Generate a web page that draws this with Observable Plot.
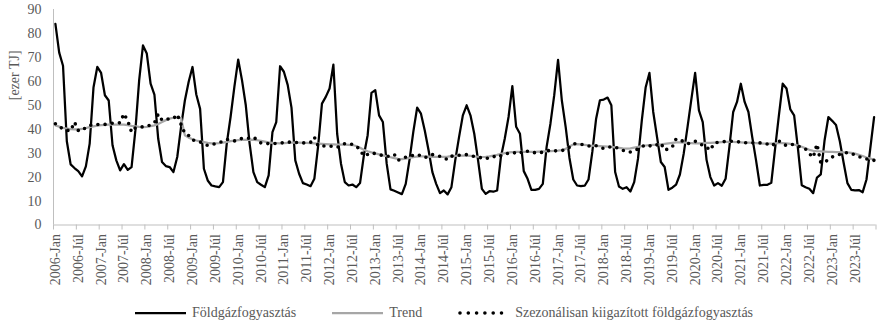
<!DOCTYPE html>
<html>
<head>
<meta charset="utf-8">
<script src="https://cdn.jsdelivr.net/npm/d3@7"></script>
<script src="https://cdn.jsdelivr.net/npm/@observablehq/plot@0.6"></script>
<style>
  body { margin: 0; background: #fff; font-family: "Liberation Serif", "Times New Roman", serif; }
  #chart svg { display: block; }
  #chart svg, #chart svg text { font-family: "Liberation Serif", "Times New Roman", serif !important; }
  #legend { display: flex; align-items: center; height: 26px; padding-left: 135px; font-size: 14px; color: #595959; white-space: nowrap; }
  #legend .item { display: flex; align-items: center; margin-right: 36px; }
  #legend svg { margin-right: 6px; }
</style>
</head>
<body>
<div id="chart"></div>
<div id="legend"></div>
<script>
// Monthly natural gas consumption in Hungary, 2006-Jan .. 2023-Dec (thousand TJ)
const firstYear = 2006;
const lastYear = 2023;
const halfYearNames = ["Jan", "Júl"];
const yTicks = [0, 10, 20, 30, 40, 50, 60, 70, 80, 90];

const consumption = [
  84.0, 72.0, 66.5, 35.0, 25.3, 23.8, 22.5, 20.3, 24.5, 34.0, 57.4, 66.0,
  63.5, 54.2, 52.0, 33.3, 27.0, 22.8, 25.4, 23.0, 24.2, 39.5, 60.5, 75.0,
  71.6, 59.0, 54.5, 36.0, 26.3, 24.6, 24.2, 22.1, 28.4, 41.0, 52.0, 59.8,
  66.0, 54.5, 48.5, 23.5, 18.6, 16.5, 16.1, 15.8, 17.9, 34.0, 45.1, 57.7,
  69.1, 60.5, 50.0, 34.0, 22.1, 17.9, 16.8, 15.8, 20.7, 38.8, 43.0, 66.3,
  64.0, 58.5, 49.0, 27.0, 21.4, 17.5, 16.9, 16.2, 19.3, 33.0, 50.7, 53.5,
  57.0, 67.0, 38.0, 25.6, 17.9, 16.5, 16.9, 15.8, 17.5, 29.0, 37.5, 55.2,
  56.3, 45.8, 43.0, 25.6, 14.9, 14.3, 13.6, 12.9, 17.2, 27.3, 39.0, 49.0,
  46.5, 39.5, 31.2, 22.1, 17.2, 13.3, 14.4, 12.8, 15.8, 27.0, 36.7, 45.8,
  50.0, 45.8, 38.1, 27.0, 15.1, 13.0, 14.1, 13.9, 14.4, 28.4, 36.0, 45.1,
  58.0, 41.0, 38.1, 22.5, 19.3, 14.7, 14.7, 15.1, 17.2, 32.6, 42.3, 54.2,
  69.0, 52.0, 41.0, 28.0, 19.0, 16.5, 16.2, 16.4, 19.0, 30.5, 44.4, 52.1,
  52.4, 53.2, 50.0, 22.1, 16.1, 15.1, 15.8, 14.0, 17.9, 27.7, 43.7, 57.4,
  63.5, 47.2, 36.7, 26.3, 24.2, 14.7, 15.6, 16.9, 21.1, 29.8, 40.9, 52.4,
  63.5, 47.9, 43.0, 27.2, 20.0, 16.5, 17.5, 16.4, 19.3, 32.6, 47.2, 51.4,
  59.0, 51.4, 47.2, 36.7, 27.0, 16.5, 16.8, 16.8, 17.6, 31.9, 45.8, 59.0,
  57.0, 48.3, 45.8, 32.0, 16.6, 15.8, 15.1, 13.3, 19.8, 21.1, 35.4, 45.1,
  43.5, 41.8, 35.0, 26.0, 17.5, 14.7, 14.5, 14.6, 13.7, 19.0, 32.0, 45.1
];

const trend = [
  41.6, 41.1, 40.6, 40.3, 40.0, 39.9, 39.9, 40.1, 40.5, 40.9, 41.2, 41.5,
  41.7, 41.8, 41.9, 41.9, 41.9, 41.9, 41.9, 41.7, 41.4, 41.2, 41.0, 40.9,
  41.0, 41.3, 41.6, 42.2, 43.0, 43.8, 44.4, 44.8, 44.9, 44.6, 37.5, 36.5,
  35.8, 35.3, 34.9, 34.6, 34.3, 34.1, 34.1, 34.2, 34.4, 34.7, 35.0, 35.2,
  35.4, 35.5, 35.6, 35.7, 35.6, 35.4, 35.1, 34.8, 34.5, 34.3, 34.2, 34.1,
  34.2, 34.3, 34.4, 34.4, 34.4, 34.3, 34.3, 34.2, 34.1, 34.0, 33.9, 33.8,
  33.7, 33.7, 33.6, 33.6, 33.6, 33.5, 33.4, 33.0, 32.3, 31.4, 30.8, 30.3,
  29.9, 29.5, 29.1, 28.7, 28.3, 27.9, 27.6, 27.5, 27.7, 28.0, 28.3, 28.6,
  28.7, 28.7, 28.6, 28.5, 28.5, 28.5, 28.5, 28.6, 28.8, 28.9, 29.0, 29.0,
  29.0, 28.9, 28.7, 28.5, 28.4, 28.5, 28.7, 29.0, 29.3, 29.7, 30.0, 30.3,
  30.4, 30.5, 30.5, 30.5, 30.5, 30.5, 30.5, 30.6, 30.7, 30.8, 30.9, 31.0,
  31.1, 31.3, 31.8, 32.8, 33.6, 33.8, 33.7, 33.5, 33.3, 33.1, 33.0, 32.9,
  32.8, 32.7, 32.6, 32.4, 32.2, 32.0, 31.9, 32.0, 32.3, 32.6, 32.9, 33.2,
  33.4, 33.5, 33.6, 33.7, 33.9, 34.1, 34.3, 34.5, 34.5, 34.4, 34.3, 34.2,
  34.1, 34.1, 34.2, 34.3, 34.3, 34.4, 34.5, 34.6, 34.7, 34.7, 34.7, 34.6,
  34.5, 34.4, 34.4, 34.3, 34.2, 34.1, 34.0, 34.0, 34.0, 34.1, 34.2, 34.2,
  34.1, 33.9, 33.6, 33.2, 32.7, 32.0, 31.4, 31.0, 30.8, 30.7, 30.6, 30.5,
  30.5, 30.4, 30.4, 30.3, 30.3, 30.1, 29.8, 29.3, 28.8, 28.2, 27.7, 27.3
];

const seasonallyAdjusted = [
  42.3, 41.0, 40.2, 39.6, 39.3, 43.0, 39.5, 39.3, 40.8, 41.5, 42.0, 42.0,
  42.0, 42.0, 42.2, 42.5, 42.5, 42.7, 46.5, 43.5, 38.8, 40.6, 40.9, 41.0,
  41.2, 41.8, 42.6, 46.3, 43.8, 44.3, 44.3, 44.4, 46.2, 42.0, 38.2, 37.4,
  35.5, 35.1, 34.7, 34.0, 33.2, 33.5, 34.0, 34.4, 35.0, 35.8, 35.5, 35.1,
  35.5, 36.2, 36.3, 36.2, 36.7, 35.5, 34.2, 34.0, 34.0, 34.0, 34.1, 34.2,
  34.4, 34.6, 34.6, 34.5, 34.4, 34.3, 34.2, 34.5, 36.7, 33.0, 33.0, 33.0,
  33.0, 32.7, 32.4, 33.3, 34.0, 33.9, 33.7, 33.0, 31.3, 28.8, 29.5, 30.2,
  29.8, 29.4, 29.0, 28.5, 29.0, 29.5, 27.0, 27.8, 28.3, 28.7, 29.1, 29.5,
  28.8, 28.1, 28.8, 29.4, 29.0, 28.7, 28.0, 27.3, 28.7, 29.0, 29.1, 29.2,
  29.4, 29.0, 28.6, 28.3, 28.0, 27.6, 28.2, 28.7, 28.1, 29.0, 29.6, 30.0,
  30.3, 30.0, 29.8, 31.2, 30.8, 30.3, 30.2, 30.0, 30.5, 30.9, 31.2, 31.0,
  30.9, 31.1, 31.4, 32.5, 34.0, 33.8, 33.7, 33.4, 33.0, 32.8, 33.1, 32.5,
  31.9, 32.3, 32.8, 32.4, 32.0, 31.2, 30.5, 30.5, 31.0, 31.8, 32.7, 33.5,
  33.1, 32.8, 33.5, 34.2, 31.3, 31.8, 32.6, 36.0, 35.6, 34.8, 33.9, 34.4,
  35.0, 34.0, 33.3, 32.5, 31.2, 34.3, 34.5, 34.7, 34.9, 35.0, 35.0, 34.8,
  34.6, 34.4, 34.2, 34.3, 34.4, 34.3, 34.2, 33.8, 33.0, 34.0, 35.1, 34.0,
  33.1, 33.5, 33.7, 33.0, 32.4, 31.7, 29.8, 28.2, 33.8, 26.0, 26.2, 27.3,
  28.4, 29.0, 29.5, 29.9, 30.3, 29.9, 29.2, 28.6, 28.0, 27.6, 27.2, 27.0
];

const seriesNames = ["Földgázfogyasztás", "Trend", "Szezonálisan kiigazított földgázfogyasztás"];
const seriesColors = ["#000000", "#a6a6a6", "#000000"];
const yLabel = "[ezer TJ]";

// One row per month; x is the month's slot centre on a continuous index axis
const nMonths = (lastYear - firstYear + 1) * 12;
const rows = d3.range(nMonths).map(i => ({
  pos: i + 0.5,
  consumption: consumption[i],
  trend: trend[i],
  sa: seasonallyAdjusted[i]
}));

// Category labels every half year (January and July), ticks on the slot boundaries
const labelPositions = d3.range(0, nMonths, 6).map(i => i + 0.5);
const labelFor = p => {
  const i = Math.floor(p);
  return `${firstYear + Math.floor(i / 12)}-${halfYearNames[(i % 12) / 6]}`;
};
const boundaries = d3.range(0, nMonths + 1, 6);

const axisGray = "#bfbfbf";
const serif = "Liberation Serif";

const chart = Plot.plot({
  width: 877,
  height: 300,
  marginLeft: 53,
  marginRight: 1.5,
  marginTop: 9,
  marginBottom: 75.5,
  style: { fontFamily: serif, fontSize: "14px", color: "#595959", background: "#fff" },
  x: { type: "linear", domain: [0, nMonths] },
  y: { domain: [0, 90] },
  marks: [
    Plot.ruleX([0], { stroke: axisGray, strokeWidth: 1 }),
    Plot.ruleY([0], { stroke: axisGray, strokeWidth: 1 }),
    Plot.axisX(boundaries, { tickSize: 5, tickFormat: () => "", stroke: axisGray, label: null }),
    Plot.axisX(labelPositions, { tickSize: 0, tickPadding: 9, tickRotate: -90, tickFormat: labelFor, label: null, fontSize: 14, fontFamily: serif }),
    Plot.axisY(yTicks, { tickSize: 0, tickPadding: 12, label: null, fontSize: 14, fontFamily: serif }),
    Plot.text([yLabel], { frameAnchor: "left", dx: -39, dy: -17, rotate: -90, fontSize: 14, fontFamily: serif, fill: "#595959" }),
    Plot.line(rows, { x: "pos", y: "consumption", stroke: seriesColors[0], strokeWidth: 2.25, strokeLinejoin: "round" }),
    Plot.line(rows, { x: "pos", y: "trend", stroke: seriesColors[1], strokeWidth: 2.25, strokeLinejoin: "round" }),
    Plot.line(rows, { x: "pos", y: "sa", stroke: seriesColors[2], strokeWidth: 3.6, strokeDasharray: "0 7.2", strokeLinecap: "round", strokeLinejoin: "round" })
  ]
});
document.getElementById("chart").appendChild(chart);

// Legend below the plot
const legend = d3.select("#legend");
const swatches = [
  { stroke: seriesColors[0], width: 2.25, dash: null, cap: "butt" },
  { stroke: seriesColors[1], width: 2.25, dash: null, cap: "butt" },
  { stroke: seriesColors[2], width: 3.6, dash: "0 8.3", cap: "round" }
];
seriesNames.forEach((name, k) => {
  const item = legend.append("div").attr("class", "item");
  const svg = item.append("svg").attr("width", 51).attr("height", 10);
  const sw = swatches[k];
  svg.append("line")
    .attr("x1", sw.cap === "round" ? 2 : 0).attr("x2", sw.cap === "round" ? 50 : 51)
    .attr("y1", 5).attr("y2", 5)
    .attr("stroke", sw.stroke).attr("stroke-width", sw.width)
    .attr("stroke-linecap", sw.cap)
    .attr("stroke-dasharray", sw.dash);
  item.append("span").text(name);
});
</script>
</body>
</html>
